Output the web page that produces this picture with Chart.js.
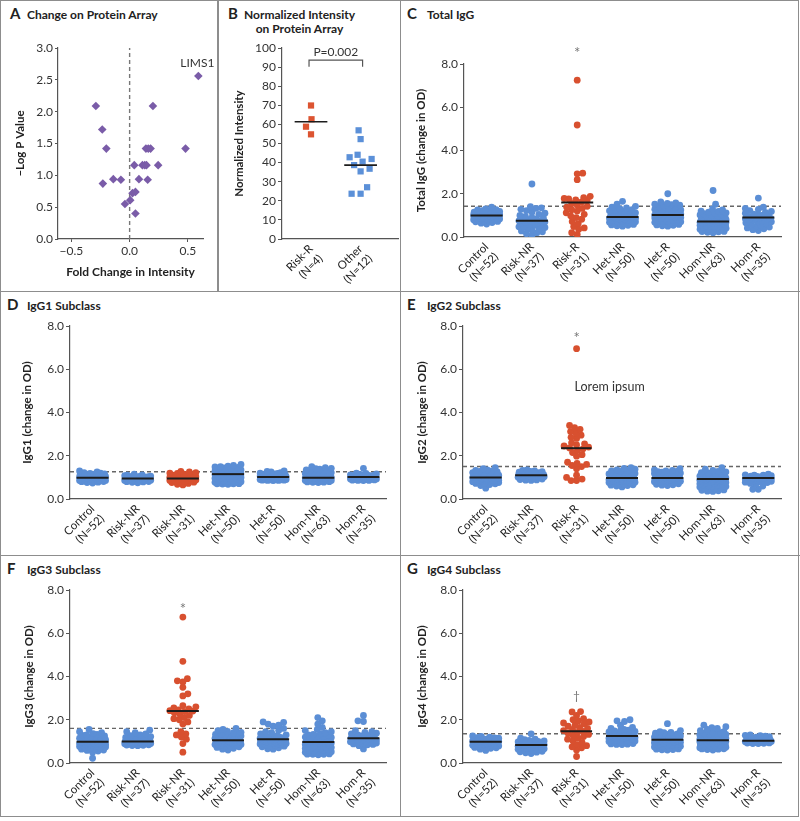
<!DOCTYPE html>
<html>
<head>
<meta charset="utf-8">
<title>IgG response to LIMS1</title>
<script src="https://cdn.jsdelivr.net/npm/chart.js@4.4.1/dist/chart.umd.min.js"></script>
<style>
  body { margin: 0; background: #fff; }
  #fig { position: relative; width: 800px; height: 821px; font-family: Lato, "Open Sans", sans-serif; color: #222; }
  .frame { position: absolute; left: 0; top: 0; width: 797px; height: 815px; border: 1.5px solid #8d8d8d; }
  .rule { position: absolute; background: #8d8d8d; }
  .lt { position: absolute; font-weight: bold; font-size: 15px; line-height: 15px; }
  .tx { position: absolute; font-weight: bold; font-size: 12px; line-height: 14.4px; white-space: nowrap; }
  canvas { position: absolute; }
</style>
</head>
<body>
<div id="fig">
  <div class="frame"></div>
  <div class="rule" style="left:217px;top:0;width:1.5px;height:291px"></div>
  <div class="rule" style="left:399.5px;top:0;width:1.5px;height:817px"></div>
  <div class="rule" style="left:0;top:290.5px;width:800px;height:1.5px"></div>
  <div class="rule" style="left:0;top:554.5px;width:800px;height:1.5px"></div>

  <div class="lt" style="left:10px;top:6px">A</div>
  <div class="tx" style="left:27px;top:8px">Change on Protein Array</div>
  <div class="lt" style="left:228px;top:6px">B</div>
  <div class="tx" style="left:244px;top:8px;text-align:center">Normalized Intensity<br>on Protein Array</div>
  <div class="lt" style="left:407px;top:6px">C</div>
  <div class="tx" style="left:427px;top:8px">Total IgG</div>
  <div class="lt" style="left:7px;top:297px">D</div>
  <div class="tx" style="left:27px;top:299px">IgG1 Subclass</div>
  <div class="lt" style="left:407px;top:297px">E</div>
  <div class="tx" style="left:427px;top:299px">IgG2 Subclass</div>
  <div class="lt" style="left:7px;top:561px">F</div>
  <div class="tx" style="left:27px;top:563px">IgG3 Subclass</div>
  <div class="lt" style="left:407px;top:561px">G</div>
  <div class="tx" style="left:427px;top:563px">IgG4 Subclass</div>
</div>
<script>
// ---- A: volcano plot
const aFold = [0.59, -0.29, 0.20, -0.235, -0.20, 0.14, 0.16, 0.18, 0.48, 0.04, 0.11, 0.13, 0.145, 0.245, -0.23, -0.14, -0.075, 0.08, 0.155, 0.025, 0.05, 0.005, -0.04, 0.05];
const aLogP = [2.56, 2.09, 2.09, 1.72, 1.42, 1.42, 1.42, 1.42, 1.42, 1.16, 1.16, 1.16, 1.16, 1.16, 0.87, 0.94, 0.93, 0.94, 0.93, 0.72, 0.74, 0.61, 0.55, 0.40];
const aXTicks = [-0.5, 0, 0.5];
const aYTicks = [0, 0.5, 1, 1.5, 2, 2.5, 3];

// ---- B: normalized intensity
const bCats = ['Risk-R', 'Other'];
const bCounts = ['(N=4)', '(N=12)'];
const bRisk = [69.9, 62.7, 58.8, 54.8];
const bOther = [56.9, 52.3, 44.1, 42.8, 41.9, 40.5, 38.7, 36.8, 35.4, 27.1, 23.7, 23.7];
const bMedians = [61.4, 38.7];
const bYTicks = [0, 10, 20, 30, 40, 50, 60, 70, 80, 90, 100];

// ---- C to G: groups
const cats = ['Control', 'Risk-NR', 'Risk-R', 'Het-NR', 'Het-R', 'Hom-NR', 'Hom-R'];
const catsNR = ['Control', 'Risk-NR', 'Risk-NR', 'Het-NR', 'Het-R', 'Hom-NR', 'Hom-R'];
const counts = ['(N=52)', '(N=37)', '(N=31)', '(N=50)', '(N=50)', '(N=63)', '(N=35)'];
const odTicks = [0, 2, 4, 6, 8];

// C total IgG
const cControl = [1.38,1.3,1.27,1.25,1.22,1.2,1.18,1.16,1.15,1.13,1.12,1.1,1.09,1.08,1.06,1.05,1.04,1.03,1.02,1.01,1.0,1.0,0.99,0.98,0.98,0.97,0.96,0.95,0.94,0.93,0.92,0.92,0.91,0.9,0.89,0.88,0.87,0.86,0.85,0.84,0.83,0.82,0.8,0.79,0.78,0.76,0.74,0.72,0.7,0.67,0.64,0.6];
const cRiskNR = [2.45,1.4,1.35,1.32,1.28,1.22,1.15,1.1,1.05,1.0,0.95,0.9,0.87,0.84,0.8,0.78,0.76,0.75,0.73,0.7,0.68,0.65,0.62,0.6,0.57,0.54,0.5,0.47,0.44,0.4,0.36,0.32,0.28,0.24,0.2,0.15,0.07];
const cRiskR = [7.25,5.18,2.95,2.92,2.65,1.88,1.82,1.78,1.76,1.72,1.68,1.62,1.55,1.48,1.42,1.38,1.32,1.26,1.2,1.12,1.05,0.98,0.9,0.82,0.72,0.62,0.48,0.42,0.36,0.2,0.12];
const cHetNR = [1.65,1.52,1.42,1.38,1.34,1.3,1.27,1.24,1.21,1.18,1.15,1.12,1.1,1.08,1.06,1.04,1.02,1.0,0.98,0.97,0.96,0.95,0.94,0.93,0.92,0.91,0.9,0.89,0.88,0.87,0.86,0.85,0.84,0.82,0.8,0.78,0.76,0.74,0.72,0.7,0.68,0.66,0.64,0.62,0.6,0.58,0.56,0.54,0.52,0.5];
const cHetR = [2.0,1.62,1.58,1.55,1.52,1.5,1.47,1.44,1.4,1.36,1.32,1.28,1.25,1.22,1.2,1.17,1.14,1.12,1.1,1.08,1.06,1.04,1.02,1.01,1.0,0.98,0.96,0.94,0.92,0.9,0.88,0.86,0.84,0.82,0.8,0.78,0.76,0.74,0.72,0.7,0.68,0.66,0.64,0.62,0.6,0.58,0.56,0.54,0.52,0.5];
const cHomNR = [2.15,1.52,1.3,1.25,1.2,1.18,1.15,1.12,1.1,1.08,1.05,1.02,1.0,0.98,0.96,0.94,0.92,0.9,0.88,0.86,0.84,0.82,0.8,0.79,0.78,0.77,0.76,0.75,0.74,0.73,0.72,0.71,0.7,0.69,0.68,0.67,0.66,0.65,0.64,0.62,0.6,0.58,0.56,0.54,0.52,0.5,0.48,0.46,0.44,0.42,0.4,0.38,0.36,0.34,0.32,0.3,0.28,0.27,0.26,0.25,0.24,0.22,0.2];
const cHomR = [1.8,1.38,1.32,1.28,1.22,1.18,1.14,1.1,1.06,1.02,1.0,0.97,0.94,0.92,0.9,0.89,0.88,0.86,0.84,0.82,0.8,0.78,0.75,0.72,0.7,0.66,0.62,0.58,0.54,0.5,0.46,0.42,0.38,0.34,0.3];
const cMedians = [1.0, 0.75, 1.6, 0.93, 1.02, 0.72, 0.9];
const cCut = 1.42;

// D IgG1
const dControl = [1.3,1.25,1.22,1.2,1.18,1.16,1.15,1.14,1.12,1.11,1.1,1.09,1.08,1.07,1.06,1.05,1.04,1.03,1.02,1.01,1.0,0.99,0.98,0.98,0.97,0.96,0.95,0.95,0.94,0.93,0.92,0.92,0.91,0.9,0.9,0.89,0.88,0.88,0.87,0.86,0.86,0.85,0.85,0.84,0.83,0.82,0.82,0.81,0.8,0.78,0.76,0.74];
const dRiskNR = [1.15,1.12,1.1,1.08,1.06,1.05,1.04,1.03,1.02,1.01,1.0,0.99,0.98,0.97,0.96,0.95,0.95,0.94,0.93,0.92,0.91,0.9,0.9,0.89,0.88,0.87,0.86,0.86,0.85,0.84,0.83,0.82,0.81,0.8,0.79,0.77,0.75];
const dRiskNR31 = [1.28,1.25,1.22,1.2,1.18,1.15,1.12,1.1,1.08,1.05,1.03,1.01,1.0,0.98,0.96,0.95,0.94,0.92,0.9,0.89,0.88,0.86,0.85,0.84,0.82,0.8,0.78,0.76,0.72,0.68,0.65];
const dHetNR = [1.6,1.55,1.52,1.5,1.48,1.46,1.44,1.42,1.4,1.38,1.36,1.34,1.32,1.3,1.28,1.26,1.24,1.22,1.2,1.18,1.16,1.15,1.14,1.12,1.1,1.08,1.06,1.04,1.02,1.0,0.98,0.96,0.94,0.92,0.9,0.88,0.86,0.84,0.82,0.8,0.78,0.76,0.74,0.73,0.72,0.71,0.7,0.7,0.69,0.68];
const dHetR = [1.3,1.28,1.25,1.22,1.2,1.18,1.16,1.15,1.14,1.13,1.12,1.11,1.1,1.09,1.08,1.07,1.06,1.05,1.04,1.03,1.03,1.02,1.02,1.01,1.0,1.0,0.99,0.98,0.98,0.97,0.96,0.96,0.95,0.94,0.94,0.93,0.92,0.92,0.91,0.9,0.9,0.89,0.89,0.88,0.88,0.87,0.87,0.86,0.86,0.85];
const dHomNR = [1.5,1.45,1.42,1.4,1.38,1.35,1.32,1.3,1.28,1.26,1.24,1.22,1.2,1.18,1.16,1.14,1.12,1.1,1.09,1.08,1.07,1.06,1.05,1.04,1.03,1.02,1.01,1.0,0.99,0.99,0.98,0.98,0.97,0.97,0.96,0.96,0.95,0.95,0.94,0.94,0.93,0.93,0.92,0.92,0.91,0.9,0.9,0.89,0.88,0.88,0.87,0.86,0.86,0.85,0.84,0.83,0.82,0.81,0.8,0.79,0.78,0.77,0.76];
const dHomR = [1.42,1.2,1.18,1.16,1.14,1.12,1.1,1.09,1.08,1.07,1.06,1.05,1.04,1.03,1.02,1.02,1.01,1.0,0.99,0.98,0.97,0.96,0.95,0.94,0.93,0.92,0.91,0.9,0.9,0.89,0.88,0.87,0.86,0.86,0.85];
const dMedians = [0.98, 0.95, 0.95, 1.15, 1.02, 0.98, 1.02];
const dCut = 1.26;

// E IgG2
const eControl = [1.45,1.4,1.35,1.32,1.3,1.28,1.25,1.22,1.2,1.18,1.16,1.14,1.12,1.1,1.08,1.07,1.06,1.05,1.04,1.03,1.02,1.01,1.0,0.99,0.98,0.97,0.96,0.95,0.94,0.93,0.92,0.91,0.9,0.89,0.88,0.87,0.86,0.85,0.84,0.83,0.82,0.81,0.8,0.79,0.78,0.76,0.74,0.72,0.7,0.67,0.62,0.5];
const eRiskNR = [1.35,1.32,1.3,1.28,1.26,1.24,1.22,1.2,1.19,1.18,1.17,1.16,1.15,1.14,1.13,1.12,1.11,1.1,1.1,1.09,1.08,1.07,1.06,1.05,1.04,1.03,1.02,1.01,1.0,0.98,0.96,0.94,0.92,0.9,0.88,0.87,0.86];
const eRiskR = [6.95,3.4,3.3,3.22,3.12,3.05,2.95,2.85,2.8,2.6,2.55,2.5,2.45,2.4,2.36,2.32,2.25,2.15,2.05,1.98,1.7,1.65,1.6,1.55,1.5,1.4,1.1,1.0,0.92,0.85,0.85];
const eHetNR = [1.45,1.42,1.38,1.35,1.32,1.3,1.28,1.25,1.22,1.2,1.18,1.16,1.14,1.12,1.1,1.08,1.06,1.04,1.02,1.0,0.99,0.98,0.97,0.96,0.95,0.94,0.93,0.92,0.91,0.9,0.89,0.88,0.87,0.86,0.85,0.84,0.83,0.82,0.8,0.78,0.76,0.74,0.72,0.7,0.68,0.66,0.64,0.62,0.6,0.56];
const eHetR = [1.4,1.35,1.32,1.3,1.28,1.26,1.24,1.22,1.2,1.18,1.16,1.14,1.12,1.1,1.08,1.06,1.05,1.04,1.03,1.02,1.01,1.0,0.99,0.98,0.97,0.96,0.95,0.94,0.93,0.92,0.91,0.9,0.89,0.88,0.87,0.86,0.85,0.84,0.83,0.82,0.8,0.78,0.76,0.74,0.72,0.7,0.68,0.66,0.64,0.62];
const eHomNR = [1.45,1.38,1.32,1.28,1.25,1.22,1.2,1.18,1.16,1.14,1.12,1.1,1.08,1.06,1.05,1.04,1.03,1.02,1.01,1.0,0.99,0.98,0.97,0.96,0.95,0.94,0.93,0.93,0.92,0.92,0.91,0.9,0.89,0.88,0.87,0.86,0.85,0.84,0.83,0.82,0.81,0.8,0.78,0.76,0.74,0.72,0.7,0.68,0.66,0.64,0.62,0.6,0.58,0.55,0.52,0.5,0.48,0.45,0.42,0.4,0.38,0.36,0.35];
const eHomR = [1.15,1.12,1.1,1.1,1.08,1.06,1.05,1.04,1.02,1.0,1.0,0.98,0.97,0.96,0.95,0.95,0.94,0.93,0.92,0.92,0.9,0.88,0.87,0.86,0.85,0.84,0.82,0.8,0.78,0.76,0.72,0.68,0.6,0.45,0.45];
const eMedians = [1.0, 1.1, 2.35, 0.97, 0.97, 0.93, 0.97];
const eCut = 1.5;

// F IgG3
const fControl = [1.55,1.45,1.4,1.36,1.32,1.3,1.28,1.25,1.22,1.2,1.18,1.15,1.12,1.1,1.08,1.06,1.04,1.02,1.01,1.0,0.99,0.98,0.97,0.96,0.95,0.94,0.93,0.92,0.91,0.9,0.89,0.88,0.87,0.86,0.85,0.84,0.83,0.82,0.8,0.78,0.76,0.74,0.72,0.7,0.68,0.66,0.64,0.6,0.58,0.55,0.5,0.22];
const fRiskNR = [1.52,1.45,1.4,1.35,1.3,1.26,1.22,1.18,1.15,1.12,1.1,1.08,1.06,1.04,1.02,1.01,1.0,0.99,0.98,0.97,0.96,0.95,0.94,0.93,0.92,0.91,0.9,0.89,0.88,0.87,0.86,0.85,0.84,0.83,0.82,0.81,0.8];
const fRiskNR31 = [6.75,4.7,3.9,3.8,3.75,3.5,3.2,3.1,2.65,2.6,2.55,2.5,2.45,2.42,2.4,2.38,2.32,2.25,2.2,2.1,2.05,2.0,1.9,1.8,1.45,1.35,1.3,1.2,1.1,0.9,0.5];
const fHetNR = [1.6,1.55,1.5,1.46,1.42,1.4,1.38,1.35,1.32,1.3,1.28,1.25,1.22,1.2,1.18,1.16,1.14,1.12,1.1,1.08,1.07,1.06,1.05,1.04,1.03,1.02,1.01,1.0,0.99,0.98,0.97,0.96,0.95,0.94,0.93,0.92,0.91,0.9,0.88,0.86,0.85,0.84,0.82,0.8,0.78,0.75,0.72,0.68,0.64,0.6];
const fHetR = [1.9,1.88,1.8,1.75,1.7,1.6,1.5,1.45,1.4,1.35,1.3,1.26,1.22,1.2,1.18,1.16,1.14,1.12,1.1,1.1,1.09,1.08,1.07,1.06,1.05,1.04,1.03,1.02,1.01,1.0,0.99,0.98,0.97,0.96,0.95,0.94,0.93,0.92,0.91,0.9,0.88,0.86,0.84,0.82,0.8,0.78,0.75,0.7,0.66,0.64];
const fHomNR = [2.1,1.95,1.8,1.65,1.55,1.5,1.45,1.4,1.36,1.32,1.3,1.28,1.25,1.22,1.2,1.18,1.16,1.14,1.12,1.1,1.08,1.06,1.04,1.02,1.0,0.99,0.98,0.97,0.96,0.95,0.94,0.93,0.92,0.9,0.88,0.86,0.84,0.82,0.8,0.78,0.76,0.74,0.72,0.7,0.68,0.66,0.64,0.62,0.6,0.58,0.56,0.54,0.52,0.5,0.48,0.46,0.45,0.44,0.42,0.41,0.4,0.4,0.38];
const fHomR = [2.2,1.95,1.92,1.5,1.45,1.42,1.38,1.35,1.3,1.28,1.25,1.22,1.2,1.18,1.16,1.15,1.14,1.12,1.1,1.08,1.06,1.05,1.04,1.02,1.0,0.98,0.96,0.94,0.92,0.9,0.88,0.86,0.84,0.8,0.65];
const fMedians = [0.98, 1.0, 2.4, 1.05, 1.1, 0.97, 1.15];
const fCut = 1.6;

// G IgG4
const gControl = [1.25,1.23,1.2,1.18,1.16,1.15,1.14,1.12,1.11,1.1,1.09,1.08,1.07,1.06,1.05,1.04,1.03,1.02,1.01,1.0,1.0,0.99,0.98,0.97,0.96,0.95,0.94,0.93,0.92,0.91,0.9,0.9,0.89,0.88,0.87,0.86,0.85,0.84,0.83,0.82,0.81,0.8,0.79,0.78,0.76,0.75,0.74,0.72,0.7,0.68,0.64,0.58];
const gRiskNR = [1.35,1.15,1.1,1.08,1.05,1.02,1.0,0.98,0.96,0.94,0.92,0.9,0.88,0.86,0.85,0.84,0.83,0.82,0.81,0.8,0.78,0.76,0.74,0.72,0.7,0.68,0.66,0.64,0.62,0.6,0.58,0.56,0.54,0.52,0.5,0.47,0.44];
const gRiskR = [2.38,2.36,2.2,2.05,2.0,1.95,1.9,1.85,1.8,1.75,1.7,1.65,1.6,1.55,1.5,1.46,1.42,1.38,1.32,1.28,1.22,1.15,1.1,1.02,0.95,0.85,0.8,0.75,0.7,0.6,0.3];
const gHetNR = [2.0,1.95,1.92,1.75,1.65,1.6,1.55,1.52,1.5,1.48,1.46,1.44,1.42,1.4,1.38,1.36,1.34,1.32,1.3,1.28,1.27,1.26,1.25,1.24,1.23,1.22,1.21,1.2,1.19,1.18,1.17,1.16,1.15,1.14,1.12,1.1,1.08,1.06,1.04,1.02,1.0,0.98,0.96,0.94,0.92,0.9,0.88,0.87,0.86,0.85];
const gHetR = [1.82,1.5,1.45,1.42,1.4,1.38,1.35,1.32,1.3,1.28,1.25,1.22,1.2,1.18,1.16,1.14,1.12,1.1,1.09,1.08,1.07,1.06,1.05,1.04,1.03,1.02,1.01,1.0,0.98,0.96,0.94,0.92,0.9,0.88,0.86,0.84,0.82,0.8,0.78,0.76,0.74,0.72,0.7,0.68,0.66,0.65,0.64,0.62,0.61,0.6];
const gHomNR = [1.75,1.68,1.64,1.6,1.55,1.5,1.45,1.42,1.4,1.38,1.36,1.34,1.32,1.3,1.28,1.26,1.24,1.22,1.2,1.18,1.16,1.14,1.12,1.1,1.09,1.08,1.07,1.06,1.05,1.04,1.03,1.02,1.01,1.0,0.99,0.98,0.96,0.94,0.92,0.9,0.88,0.86,0.84,0.82,0.8,0.79,0.78,0.77,0.76,0.75,0.74,0.73,0.72,0.71,0.7,0.69,0.68,0.67,0.66,0.65,0.64,0.62,0.6];
const gHomR = [1.3,1.28,1.26,1.24,1.22,1.2,1.18,1.16,1.14,1.12,1.1,1.09,1.08,1.07,1.06,1.05,1.04,1.03,1.03,1.02,1.02,1.01,1.0,1.0,0.99,0.98,0.97,0.96,0.95,0.94,0.93,0.92,0.91,0.9,0.9];
const gMedians = [0.98, 0.83, 1.47, 1.25, 1.08, 1.05, 1.03];
const gCut = 1.35;

const BLUE = '#5b8ed5';
const RED = '#d8502f';
const PURPLE = '#7a5ca8';
const AXIS = '#555';
const FONT = 'Lato, "Open Sans", sans-serif';

Chart.defaults.font.family = FONT;
Chart.defaults.color = '#333';
Chart.defaults.animation = false;
Chart.defaults.plugins.legend.display = false;
Chart.defaults.plugins.tooltip.enabled = false;

function makeCanvas(x, y, w, h) {
  const c = document.createElement('canvas');
  c.width = w; c.height = h;
  c.style.left = x + 'px'; c.style.top = y + 'px';
  document.getElementById('fig').appendChild(c);
  return c;
}

function fmt(v) {
  return (v < 0 ? '\u2212' : '') + Math.abs(v).toFixed(1);
}

// text marks and the P-value bracket, placed in data units
function notes(items, bracket) {
  return {
    id: 'notes',
    afterDraw(chart) {
      const { ctx, scales: { x, y } } = chart;
      ctx.save();
      items.forEach(n => {
        ctx.font = n.font || '13px ' + FONT;
        ctx.fillStyle = n.color || '#333';
        ctx.textAlign = n.align || 'center';
        ctx.textBaseline = 'middle';
        ctx.fillText(n.text, x.getPixelForValue(n.x) + (n.dx || 0), y.getPixelForValue(n.y) + (n.dy || 0));
      });
      if (bracket) {
        const x0 = x.getPixelForValue(bracket.from), x1 = x.getPixelForValue(bracket.to);
        const yt = y.getPixelForValue(bracket.top), yb = y.getPixelForValue(bracket.foot);
        ctx.strokeStyle = '#555';
        ctx.lineWidth = 1.2;
        ctx.beginPath();
        ctx.moveTo(x0, yb); ctx.lineTo(x0, yt); ctx.lineTo(x1, yt); ctx.lineTo(x1, yb);
        ctx.stroke();
      }
      ctx.restore();
    }
  };
}

// spread each group sideways so the dots do not pile up (pixel space)
function beeswarm(chart, diam, maxHalf, medPad) {
  const xs = chart.scales.x, ys = chart.scales.y;
  const unit = xs.getPixelForValue(1) - xs.getPixelForValue(0);
  const sets = chart.data.datasets;
  sets.forEach(ds => {
    if (ds.values === undefined) return;
    const order = ds.values.map((v, k) => k).sort((p, q) => ds.values[p] - ds.values[q] || p - q);
    const placed = [];
    order.forEach((k, n) => {
      const v = ds.values[k];
      const py = ys.getPixelForValue(v);
      const near = placed.filter(p => Math.abs(p[1] - py) < diam);
      const dir = n % 2 ? -1 : 1;
      let best = 0, bestGap = -1;
      for (let s = 0; s <= maxHalf && bestGap < diam; s += 0.5) {
        for (const dx of (s ? [dir * s, -dir * s] : [0])) {
          let gap = Infinity;
          near.forEach(p => { gap = Math.min(gap, Math.hypot(p[0] - dx, p[1] - py)); });
          if (gap > bestGap) { bestGap = gap; best = dx; }
          if (gap >= diam) break;
        }
      }
      placed.push([best, py, v]);
    });
    ds.data = placed.map(p => ({ x: ds.group + p[0] / unit, y: p[2] }));
    if (medPad !== null) {
      const med = sets.find(s => s.median === ds.group);
      const lo = Math.min(...placed.map(p => p[0])) - medPad;
      const hi = Math.max(...placed.map(p => p[0])) + medPad;
      const m = med.data[0].y;
      med.data = [{ x: ds.group + lo / unit, y: m }, { x: ds.group + hi / unit, y: m }];
    }
  });
  chart.update('none');
}

function swarmChart(box, area, labels, groups, medians, cut, yTitle, titleX, items) {
  // first dataset is drawn on top: medians, then dots, then the dashed cut-off
  const sets = [];
  medians.forEach((m, i) => sets.push({
    type: 'line', median: i, data: [{ x: i - 0.36, y: m }, { x: i + 0.36, y: m }],
    borderColor: '#1c1c1c', borderWidth: 2, pointRadius: 0
  }));
  groups.forEach((g, i) => sets.push({
    group: i, values: g, data: g.map(v => ({ x: i, y: v })),
    backgroundColor: i === 2 ? RED : BLUE, borderWidth: 0, pointRadius: 3.4
  }));
  sets.push({
    type: 'line', data: [{ x: -0.5, y: cut }, { x: 6.5, y: cut }],
    borderColor: '#666', borderWidth: 1.4, borderDash: [4, 3], pointRadius: 0
  });
  const chart = new Chart(makeCanvas(box.x, box.y, box.w, box.h), {
    type: 'scatter',
    data: { datasets: sets },
    options: {
      responsive: false,
      layout: { autoPadding: false, padding: { top: area.t - box.y, right: box.x + box.w - area.r, left: 0, bottom: 0 } },
      scales: {
        x: {
          type: 'linear', min: -0.5, max: 6.5,
          afterBuildTicks: s => { s.ticks = labels.map((c, i) => ({ value: i })); },
          afterFit: s => { s.height = box.y + box.h - area.b; },
          grid: { display: false, drawTicks: false },
          border: { color: AXIS, width: 1.2 },
          ticks: {
            autoSkip: false, minRotation: 45, maxRotation: 45, padding: 3,
            font: { size: 11.5 }, color: '#222',
            callback: v => [labels[v], counts[v]]
          }
        },
        y: {
          min: 0, max: 8,
          afterBuildTicks: s => { s.ticks = odTicks.map(v => ({ value: v })); },
          afterFit: s => { s.width = area.l - box.x; },
          grid: { drawOnChartArea: false, tickLength: 4, color: AXIS },
          border: { color: AXIS, width: 1.2 },
          ticks: { callback: v => fmt(v), padding: 2, font: { size: 12 }, color: '#333' },
          title: {
            display: true, text: yTitle, color: '#222',
            font: { size: 11.5, weight: 'bold' },
            padding: { top: titleX - box.x - 6.9, bottom: 0 }
          }
        }
      }
    },
    plugins: [notes(items)]
  });
  beeswarm(chart, 5.4, 13, 3);
}

// ---- A
new Chart(makeCanvas(0, 0, 217, 291), {
  type: 'scatter',
  data: {
    datasets: [
      { data: aFold.map((f, i) => ({ x: f, y: aLogP[i] })), pointStyle: 'rectRot', pointRadius: 4.3, backgroundColor: PURPLE, borderWidth: 0 },
      { type: 'line', data: [{ x: 0, y: 0 }, { x: 0, y: 3 }], borderColor: '#777', borderWidth: 1.4, borderDash: [4, 3], pointRadius: 0 }
    ]
  },
  options: {
    responsive: false,
    layout: { autoPadding: false, padding: { top: 48, right: 14, left: 0, bottom: 0 } },
    scales: {
      x: {
        min: -0.615, max: 0.63,
        afterBuildTicks: s => { s.ticks = aXTicks.map(v => ({ value: v })); },
        afterFit: s => { s.height = 52; },
        grid: { drawOnChartArea: false, tickLength: 3, color: AXIS },
        border: { color: AXIS, width: 1.2 },
        ticks: { callback: v => fmt(v), padding: 2, font: { size: 12 } },
        title: { display: true, text: 'Fold Change in Intensity', color: '#222', font: { size: 12, weight: 'bold' }, padding: { top: 0, bottom: 12 } }
      },
      y: {
        min: 0, max: 3,
        afterBuildTicks: s => { s.ticks = aYTicks.map(v => ({ value: v })); },
        afterFit: s => { s.width = 58; },
        grid: { drawOnChartArea: false, tickLength: 3, color: AXIS },
        border: { color: AXIS, width: 1.2 },
        ticks: { callback: v => fmt(v), padding: 2, font: { size: 12 } },
        title: { display: true, text: '\u2013Log P Value', color: '#222', font: { size: 11.5, weight: 'bold' }, padding: { top: 13, bottom: 0 } }
      }
    }
  },
  plugins: [notes([{ x: 0.59, y: 2.56, dx: -1, dy: -13, text: 'LIMS1', font: '12px ' + FONT }])]
});

// ---- B
const bChart = new Chart(makeCanvas(217, 0, 183, 291), {
  type: 'scatter',
  data: {
    datasets: [
      { type: 'line', median: 0, data: [{ x: -0.33, y: bMedians[0] }, { x: 0.33, y: bMedians[0] }], borderColor: '#1c1c1c', borderWidth: 1.6, pointRadius: 0 },
      { type: 'line', median: 1, data: [{ x: 0.67, y: bMedians[1] }, { x: 1.33, y: bMedians[1] }], borderColor: '#1c1c1c', borderWidth: 1.6, pointRadius: 0 },
      { group: 0, values: bRisk, data: bRisk.map(v => ({ x: 0, y: v })), pointStyle: 'rect', pointRadius: 4.4, backgroundColor: '#dc5431', borderWidth: 0 },
      { group: 1, values: bOther, data: bOther.map(v => ({ x: 1, y: v })), pointStyle: 'rect', pointRadius: 4.4, backgroundColor: '#5b90d8', borderWidth: 0 }
    ]
  },
  options: {
    responsive: false,
    layout: { autoPadding: false, padding: { top: 48, right: 2, left: 0, bottom: 0 } },
    scales: {
      x: {
        min: -0.585, max: 1.754,
        afterBuildTicks: s => { s.ticks = bCats.map((c, i) => ({ value: i })); },
        afterFit: s => { s.height = 52; },
        grid: { display: false, drawTicks: false },
        border: { color: AXIS, width: 1.2 },
        ticks: { autoSkip: false, minRotation: 45, maxRotation: 45, padding: 3, font: { size: 11.5 }, color: '#222', callback: v => [bCats[v], bCounts[v]] }
      },
      y: {
        min: 0, max: 100,
        afterBuildTicks: s => { s.ticks = bYTicks.map(v => ({ value: v })); },
        afterFit: s => { s.width = 65; },
        grid: { drawOnChartArea: false, tickLength: 4, color: AXIS },
        border: { color: AXIS, width: 1.2 },
        ticks: { padding: 2, font: { size: 12 } },
        title: { display: true, text: 'Normalized Intensity', color: '#222', font: { size: 11.5, weight: 'bold' }, padding: { top: 15, bottom: 0 } }
      }
    }
  },
  plugins: [notes([{ x: 0.5, y: 97.9, text: 'P=0.002', font: '12px ' + FONT }], { from: -0.04, to: 1.04, top: 93.7, foot: 90.2 })]
});
beeswarm(bChart, 9, 14, null);

// ---- C to G
const STAR = '15px ' + FONT;
swarmChart({ x: 400, y: 0, w: 400, h: 291 }, { l: 464, r: 781, t: 64, b: 237 }, cats,
  [cControl, cRiskNR, cRiskR, cHetNR, cHetR, cHomNR, cHomR], cMedians, cCut,
  'Total IgG (change in OD)', 421.7, [{ x: 2, y: 8.63, dy: 3, text: '*', font: STAR, color: '#777' }]);

swarmChart({ x: 0, y: 291, w: 400, h: 264 }, { l: 70, r: 386, t: 326, b: 499 }, catsNR,
  [dControl, dRiskNR, dRiskNR31, dHetNR, dHetR, dHomNR, dHomR], dMedians, dCut,
  'IgG1 (change in OD)', 27.5, []);

swarmChart({ x: 400, y: 291, w: 400, h: 264 }, { l: 463, r: 781, t: 326, b: 499 }, cats,
  [eControl, eRiskNR, eRiskR, eHetNR, eHetR, eHomNR, eHomR], eMedians, eCut,
  'IgG2 (change in OD)', 422.7,
  [{ x: 2, y: 7.59, dy: 3, text: '*', font: STAR, color: '#777' },
   { x: 2, y: 5.19, dx: -2, text: 'Lorem ipsum', align: 'left', font: '12.5px ' + FONT, color: '#333' }]);

swarmChart({ x: 0, y: 555, w: 400, h: 262 }, { l: 70, r: 386, t: 590, b: 763 }, catsNR,
  [fControl, fRiskNR, fRiskNR31, fHetNR, fHetR, fHomNR, fHomR], fMedians, fCut,
  'IgG3 (change in OD)', 29, [{ x: 2, y: 7.26, dy: 3, text: '*', font: STAR, color: '#777' }]);

swarmChart({ x: 400, y: 555, w: 400, h: 262 }, { l: 463, r: 781, t: 590, b: 763 }, cats,
  [gControl, gRiskNR, gRiskR, gHetNR, gHetR, gHomNR, gHomR], gMedians, gCut,
  'IgG4 (change in OD)', 422.7, [{ x: 2, y: 3.11, text: '\u2020', font: '12px ' + FONT, color: '#777' }]);
</script>
</body>
</html>
